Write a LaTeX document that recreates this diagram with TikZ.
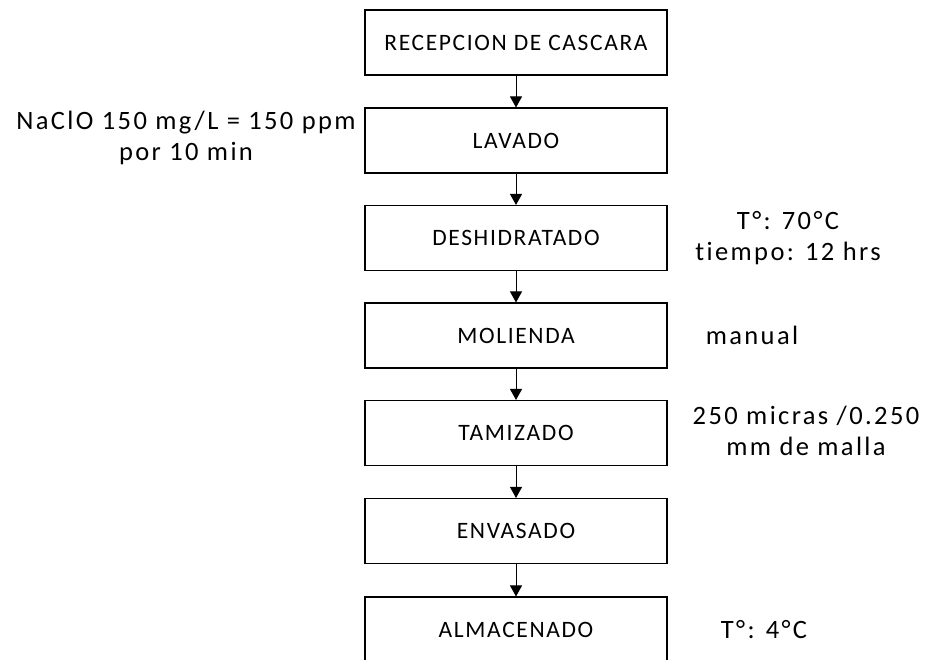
\documentclass[tikz,border=0pt]{standalone}
\usepackage{fontspec}
\setmainfont{Carlito}[LetterSpace=9, Ligatures=NoCommon]
\newfontfamily\stagefont{Carlito}[LetterSpace=7, Ligatures=NoCommon]
\usetikzlibrary{arrows.meta}

\begin{document}
\begin{tikzpicture}[x=1pt,y=-1pt,
    stage/.style={draw, line width=1.1pt, minimum width=302pt, minimum height=65pt,
      inner sep=0pt, font=\stagefont\fontsize{23.5}{27}\selectfont},
    note/.style={align=center, inner sep=0pt, font=\fontsize{26.5}{31}\selectfont}]
      \useasboundingbox (0,0) rectangle (926,660);
      \draw
        (516,42.5) node[stage] (recepcion){RECEPCION DE CASCARA}
        (516,140.5) node[stage] (lavado){LAVADO}
        (516,238) node[stage] (deshidratado){DESHIDRATADO}
        (516,335.5) node[stage] (molienda){MOLIENDA}
        (516,433) node[stage] (tamizado){TAMIZADO}
        (516,531) node[stage] (envasado){ENVASADO}
        (516,629.5) node[stage] (almacenado){ALMACENADO};
      \draw
        (186,138) node[note] (cloro){NaClO 150 mg/L = 150 ppm\\por 10 min}
        (788,238) node[note] (secado){T°: 70°C\\tiempo: 12 hrs}
        (752,335) node[note] (manual){manual}
        (806,431) node[note] (malla){250 micras /0.250\\mm de malla}
        (764,630) node[note] (frio){T°: 4°C};
      \begin{scope}[-{Triangle[width=12pt,length=11pt]}, line width=0.9pt]
        \draw (recepcion) to (lavado);
        \draw (lavado) to (deshidratado);
        \draw (deshidratado) to (molienda);
        \draw (molienda) to (tamizado);
        \draw (tamizado) to (envasado);
        \draw (envasado) to (almacenado);
      \end{scope}
    \end{tikzpicture}
\end{document}
